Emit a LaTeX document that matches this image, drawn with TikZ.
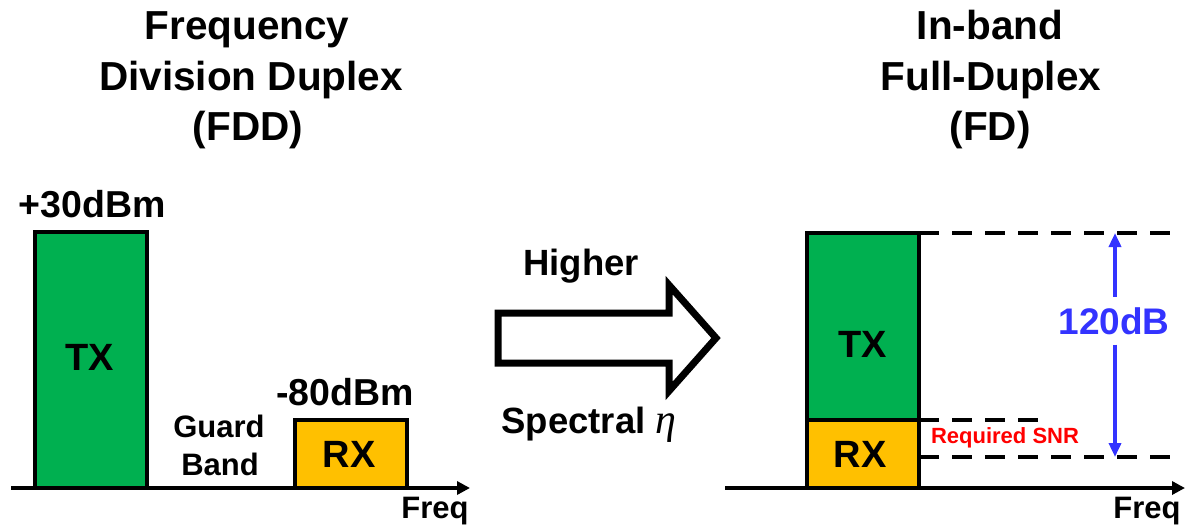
\documentclass[tikz,border=0pt]{standalone}
\usepackage{fontspec}
\setmainfont{Liberation Sans}
\newfontfamily\etafont{Liberation Serif}
\usetikzlibrary{arrows.meta}
\definecolor{txgreen}{RGB}{0,176,80}
\definecolor{rxgold}{RGB}{255,192,0}
\definecolor{dbblue}{RGB}{51,51,255}
\definecolor{snrred}{RGB}{255,0,0}
\tikzset{
  lbl/.style={inner sep=0pt, anchor=base, font=\fontsize{#1}{#1}\selectfont\bfseries},
  axisline/.style={line width=4pt, -{Triangle[length=13pt,width=13pt]}},
  bandbox/.style={line width=4pt, line join=miter, draw=black},
  dashline/.style={line width=4pt, dash pattern=on 20pt off 13pt},
  dbarrow/.style={line width=4pt, draw=dbblue, -{Triangle[length=14pt,width=12pt]}},
  bigarrow/.style={line width=7pt, line join=miter, draw=black, fill=white}
}
\begin{document}
\begin{tikzpicture}[x=1pt,y=-1pt]
\useasboundingbox (0,0) rectangle (1190,527);

% titles
\node[lbl=40.5] (t1a) at (247,40) {Frequency};
\node[lbl=40.5] (t1b) at (251,90) {Division Duplex};
\node[lbl=40.5] (t1c) at (248,140) {(FDD)};
\node[lbl=40.5] (t2a) at (990,40) {In-band};
\node[lbl=40.5] (t2b) at (991,90) {Full-Duplex};
\node[lbl=40.5] (t2c) at (990,140) {(FD)};

% left panel
\coordinate (ax1s) at (11,488);
\coordinate (ax1e) at (470,488);
\draw[bandbox, fill=txgreen] (35,232) rectangle (147,488);
\draw[bandbox, fill=rxgold] (295,420) rectangle (407,488);
\draw[axisline] (ax1s) -- (ax1e);
\node[lbl=37.5] (p30) at (92,217) {+30dBm};
\node[lbl=38] (tx1) at (90,370) {TX};
\node[lbl=37.5] (m80) at (345,405) {-80dBm};
\node[lbl=38] (rx1) at (349,467) {RX};
\node[lbl=31] (guard) at (219,437) {Guard};
\node[lbl=31] (band) at (220,475) {Band};
\node[lbl=31] (freq1) at (435,518) {Freq};

% middle arrow
\draw[bigarrow] (498,313) -- (669,313) -- (669,285) -- (716,338) -- (669,391) -- (669,363) -- (498,363) -- cycle;
\node[lbl=36.5] (higher) at (581,275) {Higher};
\node[lbl=36.5] (spectral) at (589,433) {Spectral {\etafont\mdseries\itshape\fontsize{42}{42}\selectfont η}};

% right panel
\coordinate (ax2s) at (725,488);
\coordinate (ax2e) at (1185,488);
\draw[bandbox, fill=txgreen] (807,233) rectangle (919,420);
\draw[bandbox, fill=rxgold] (807,420) rectangle (919,488);
\draw[axisline] (ax2s) -- (ax2e);
\coordinate (d1s) at (919,233);
\coordinate (d1e) at (1172,233);
\coordinate (d2s) at (919,420);
\coordinate (d2e) at (1038,420);
\coordinate (d3s) at (919,457);
\coordinate (d3e) at (1172,457);
\draw[dashline] (d1s) -- (d1e);
\draw[dashline] (d2s) -- (d2e);
\draw[dashline] (d3s) -- (d3e);
\node[lbl=38] (tx2) at (863,357) {TX};
\node[lbl=38] (rx2) at (860,467) {RX};
\node[lbl=31] (freq2) at (1147,518) {Freq};
\node[lbl=22, text=snrred] (snr) at (1005,443) {Required SNR};
\coordinate (dtop) at (1115,233);
\coordinate (dbot) at (1115,457);
\node[lbl=37, text=dbblue, inner ysep=10pt] (db) at (1114,334) {120dB};
\draw[dbarrow] (db.north -| dtop) -- (dtop);
\draw[dbarrow] (db.south -| dbot) -- (dbot);
\end{tikzpicture}
\end{document}
